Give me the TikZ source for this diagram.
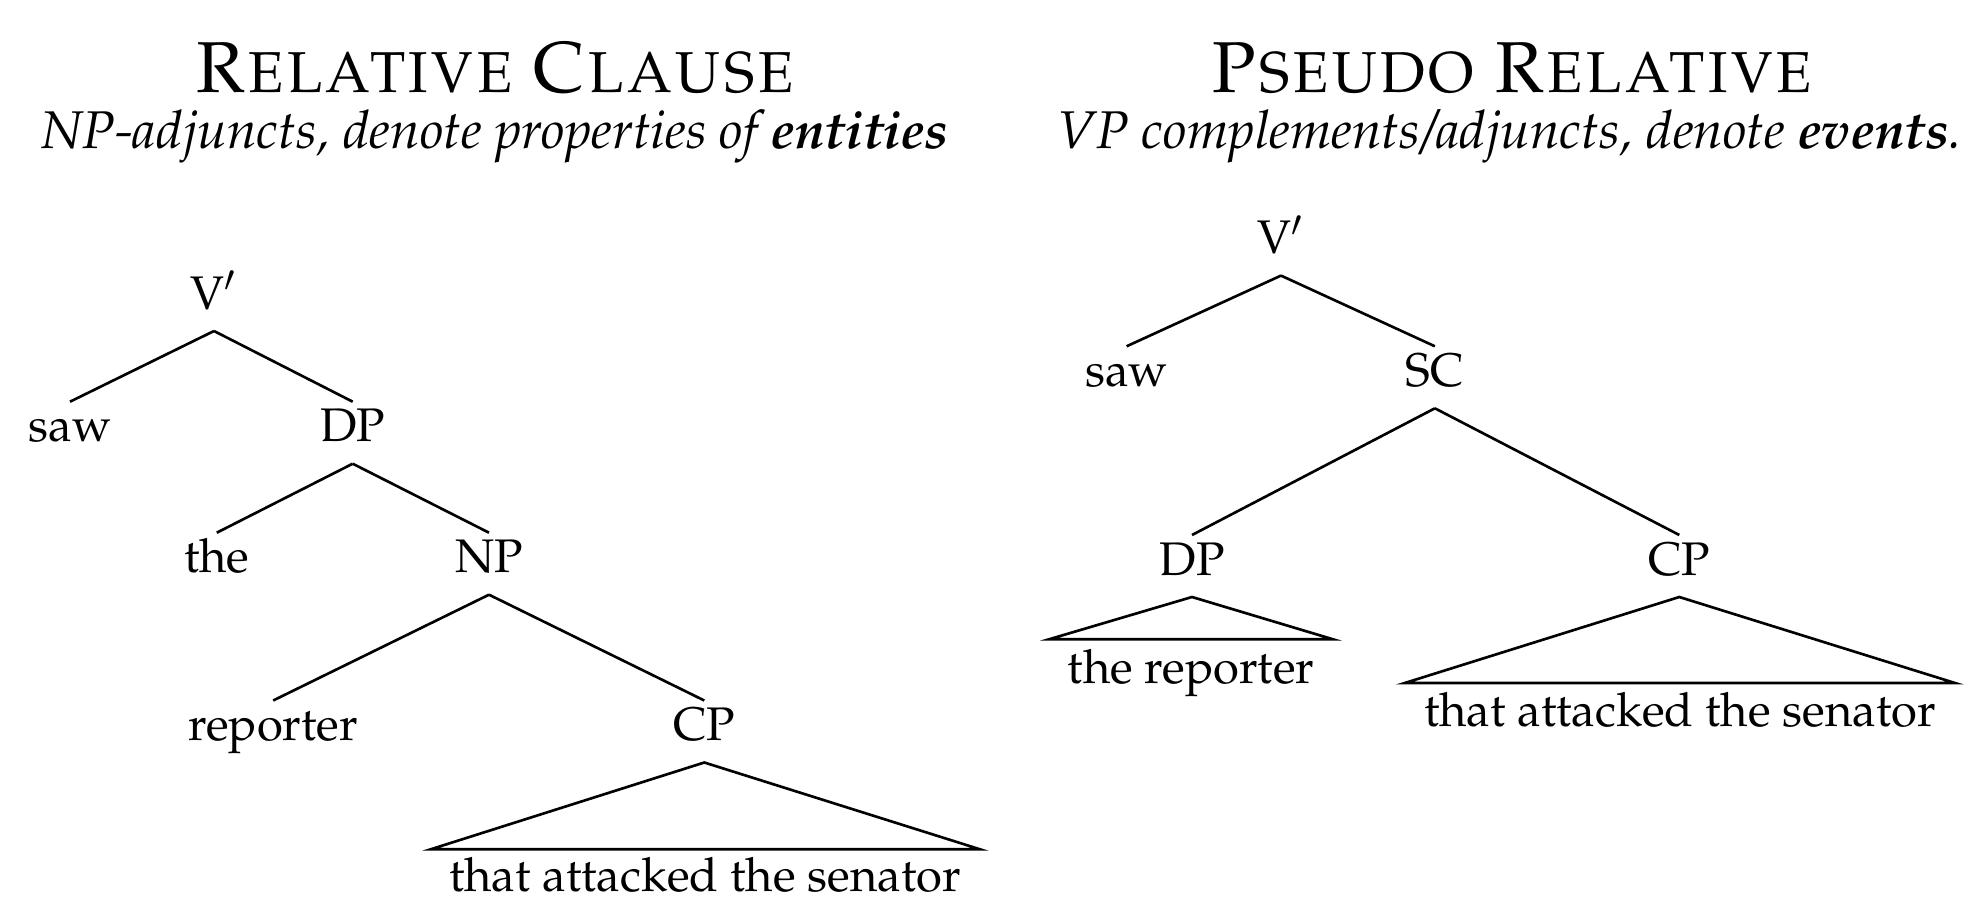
\documentclass[tikz,border=0pt]{standalone}
\usepackage[T1]{fontenc}
\usepackage{mathpazo}
\usetikzlibrary{calc}
\tikzset{
  lab/.style={anchor=base, inner sep=0pt, font=\fontsize{13.4}{16}\selectfont},
  ttl/.style={anchor=base, inner sep=0pt, font=\fontsize{20.5}{24}\selectfont},
  sub/.style={anchor=base, inner sep=0pt, font=\fontsize{15.1}{18}\selectfont\itshape},
  edge/.style={line width=0.75pt},
}
\newcommand{\br}[3]{\draw[edge] ($(#1.base)+(0,22)$) -- ($(#2.base)+(0,-40)$);
  \draw[edge] ($(#1.base)+(0,22)$) -- ($(#3.base)+(0,-40)$);}
\begin{document}
\begin{tikzpicture}[x=0.01cm,y=-0.01cm]
\useasboundingbox (0,0) rectangle (1965,900);
% titles
\node[ttl] (t1) at (495,93) {\textsc{Relative Clause}};
\node[sub] (s1) at (495,149) {NP-adjuncts, denote properties of \textbf{entities}};
\node[ttl] (t2) at (1512,93) {\textsc{Pseudo Relative}};
\node[sub] (s2) at (1510,149) {VP complements/adjuncts, denote \textbf{events}.};
% left tree
\node[lab] (lv) at (214,309) {V$'$};
\node[lab] (lsaw) at (70,441.7) {saw};
\node[lab] (ldp) at (352.7,441.7) {DP};
\node[lab] (lthe) at (216.8,572.7) {the};
\node[lab] (lnp) at (489,572.7) {NP};
\node[lab] (lrep) at (273.2,740.5) {reporter};
\node[lab] (lcp) at (704.3,740.5) {CP};
\br{lv}{lsaw}{ldp}
\br{ldp}{lthe}{lnp}
\br{lnp}{lrep}{lcp}
\coordinate (la) at (430.7,849.3);
\coordinate (lb) at (980,849.3);
\draw[edge] (la) -- ($(lcp.base)+(0,22)$) -- (lb) -- cycle;
\node[lab] (ltxt) at (705,891.5) {that attacked the senator};
% right tree
\node[lab] (rv) at (1281,253.6) {V$'$};
\node[lab] (rsaw) at (1126.6,386.3) {saw};
\node[lab] (rsc) at (1434.9,386.3) {SC};
\node[lab] (rdp) at (1192,575) {DP};
\node[lab] (rcp) at (1679.3,575) {CP};
\br{rv}{rsaw}{rsc}
\br{rsc}{rdp}{rcp}
\coordinate (ra) at (1049,639.3);
\coordinate (rb) at (1333,639.3);
\draw[edge] (ra) -- ($(rdp.base)+(0,22)$) -- (rb) -- cycle;
\node[lab] (rtxt1) at (1191,683) {the reporter};
\coordinate (rc) at (1404.8,683);
\coordinate (rd) at (1955,683);
\draw[edge] (rc) -- ($(rcp.base)+(0,22)$) -- (rd) -- cycle;
\node[lab] (rtxt2) at (1680,726.5) {that attacked the senator};
\end{tikzpicture}
\end{document}
